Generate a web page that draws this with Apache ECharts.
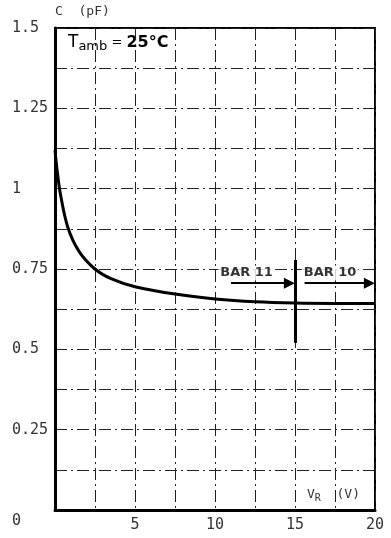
<!DOCTYPE html>
<html>
<head>
<meta charset="utf-8">
<script src="https://cdn.jsdelivr.net/npm/echarts@6/dist/echarts.min.js"></script>
<style>
  html, body { margin: 0; padding: 0; background: #fff; }
  #chart { width: 391px; height: 538px; }
</style>
</head>
<body>
<div id="chart"></div>
<script>
// reverse voltage (V) and capacitance (pF)
const vr = [0, 0.15, 0.35, 0.8, 1.5, 2.5, 3.5, 5, 7.5, 10, 12.5, 15, 17.5, 20]
const cap = [1.12, 1.05, 0.98, 0.88, 0.805, 0.75, 0.72, 0.695, 0.672, 0.657, 0.648, 0.644, 0.643, 0.643]

const xTicks = [5, 10, 15, 20]
const yTicks = [0.25, 0.5, 0.75, 1, 1.25, 1.5]
const yTickText = ['0.25', '0.5', '0.75', '1', '1.25', '1.5']

// type range markers (arrow ends sit at the head's centre)
const arrowY = 0.706
const bar11 = [11, 14.65]
const bar10 = [15.6, 19.65]
const divider = [15, 0.778, 0.52]
const notes = [[11.97, 0.7375, 'BAR 11'], [17.19, 0.7375, 'BAR 10']]

const labelFont = { color: '#333', fontSize: 15, fontFamily: 'DejaVu Sans Mono' }
const gridLine = { lineStyle: { color: '#222', width: 1, type: [12, 4, 2, 4] } }

const chart = echarts.init(document.getElementById('chart'))
chart.setOption({
  animation: false,
  grid: { left: 55, right: 16, top: 28, bottom: 28, show: true, borderColor: '#000', borderWidth: 2 },
  xAxis: {
    type: 'value', min: 0, max: 20, interval: 2.5,
    name: 'V{s|R}  (V)', nameLocation: 'end', nameGap: -68,
    nameTextStyle: {
      ...labelFont, fontSize: 13, align: 'left', verticalAlign: 'bottom', padding: [0, 0, 7, 0],
      rich: { s: { ...labelFont, fontSize: 10, verticalAlign: 'bottom', padding: [6, 0, 0, 0] } },
    },
    axisLine: { lineStyle: { color: '#000', width: 3 } },
    axisTick: { show: false },
    splitLine: gridLine,
    axisLabel: {
      ...labelFont, margin: 8,
      formatter: v => (xTicks.includes(v) ? String(v) : ''),
    },
  },
  yAxis: {
    type: 'value', min: 0, max: 1.5, interval: 0.125,
    name: 'C  (pF)', nameLocation: 'end', nameGap: 10,
    nameTextStyle: { ...labelFont, fontSize: 13, align: 'left' },
    axisLine: { lineStyle: { color: '#000', width: 3 } },
    axisTick: { show: false },
    splitLine: gridLine,
    axisLabel: {
      ...labelFont, align: 'left', margin: 43,
      formatter: v => {
        const i = yTicks.findIndex(t => Math.abs(t - v) < 1e-6)
        return i >= 0 ? yTickText[i] : ''
      },
    },
  },
  graphic: [
    { type: 'text', left: 12, top: 514, style: { text: '0', font: '15px DejaVu Sans Mono', fill: '#333' } },
    {
      type: 'text', left: 68, top: 34,
      style: {
        text: '{t|T}{s|amb}{e| = }{b|25°C}',
        rich: {
          t: { fontSize: 17, fontFamily: 'DejaVu Sans', color: '#111' },
          s: { fontSize: 13, fontFamily: 'DejaVu Sans', color: '#111', padding: [9, 0, 0, 0] },
          e: { fontSize: 13, fontFamily: 'DejaVu Sans', color: '#111' },
          b: { fontSize: 16, fontFamily: 'DejaVu Sans', fontWeight: 'bold', color: '#111' },
        },
      },
    },
  ],
  series: [
    {
      type: 'line', smooth: 0.35, showSymbol: false,
      lineStyle: { color: '#000', width: 3 },
      data: vr.map((v, i) => [v, cap[i]]),
      markLine: {
        silent: true,
        symbol: ['none', 'triangle'], symbolSize: [11, 11],
        label: { show: false },
        lineStyle: { color: '#000', width: 2, type: 'solid' },
        data: [
          [{ coord: [bar11[0], arrowY] }, { coord: [bar11[1], arrowY] }],
          [{ coord: [bar10[0], arrowY] }, { coord: [bar10[1], arrowY] }],
          [{ coord: [divider[0], divider[1]], symbol: 'none' }, { coord: [divider[0], divider[2]], symbol: 'none', lineStyle: { width: 3 } }],
        ],
      },
    },
    {
      type: 'scatter', symbolSize: 0,
      data: notes,
      label: {
        show: true, position: 'inside', formatter: p => p.data[2],
        color: '#000', fontSize: 13, fontWeight: 'bold', fontFamily: 'DejaVu Sans',
        backgroundColor: '#fff', padding: [1, 2],
      },
    },
  ],
})
</script>
</body>
</html>
